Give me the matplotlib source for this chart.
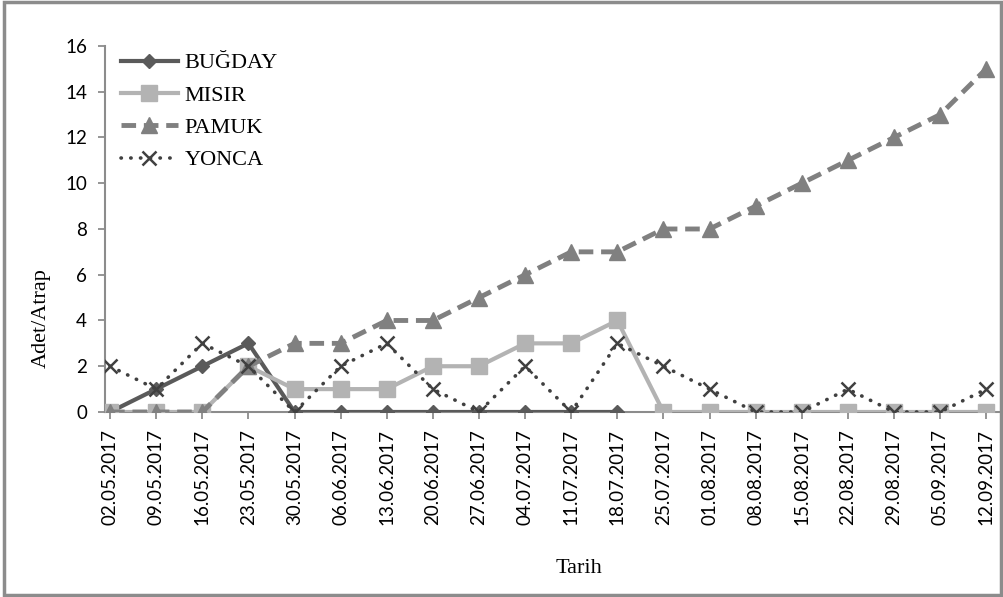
import matplotlib.pyplot as plt
import numpy as np
from matplotlib.patches import Rectangle

# Weekly trap counts per crop
dates = ['02.05.2017', '09.05.2017', '16.05.2017', '23.05.2017', '30.05.2017',
         '06.06.2017', '13.06.2017', '20.06.2017', '27.06.2017', '04.07.2017',
         '11.07.2017', '18.07.2017', '25.07.2017', '01.08.2017', '08.08.2017',
         '15.08.2017', '22.08.2017', '29.08.2017', '05.09.2017', '12.09.2017']
bugday = [0, 1, 2, 3, 0, 0, 0, 0, 0, 0, 0, 0]
misir = [0, 0, 0, 2, 1, 1, 1, 2, 2, 3, 3, 4, 0, 0, 0, 0, 0, 0, 0, 0]
pamuk = [0, 0, 0, 2, 3, 3, 4, 4, 5, 6, 7, 7, 8, 8, 9, 10, 11, 12, 13, 15]
yonca = [2, 1, 3, 2, 0, 2, 3, 1, 0, 2, 0, 3, 2, 1, 0, 0, 1, 0, 0, 1]

x = np.arange(len(dates))

fig = plt.figure(figsize=(10.04, 5.97), dpi=100)
ax = fig.add_axes([0.1046, 0.3099, 0.8915, 0.6131])

ax.plot(x[:len(bugday)], bugday, color='#5a5a5a', lw=3, marker='D', ms=7.5,
        label='BUĞDAY', zorder=3)
ax.plot(x, misir, color='#b3b3b3', lw=3, marker='s', ms=12,
        label='MISIR', zorder=4)
ax.plot(x, pamuk, color='#808080', lw=3.5, ls=(0, (3, 1.6)), marker='^', ms=12,
        label='PAMUK', zorder=5)
ax.plot(x, yonca, color='#404040', lw=2.6, ls=(0, (0.1, 2.6)),
        dash_capstyle='round', marker='x', ms=10.5, mew=1.8,
        label='YONCA', zorder=6)

ax.set_xlim(-0.11, 19.3)
ax.set_ylim(0, 16)
ax.set_yticks(range(0, 17, 2))
ax.set_xticks(x)
ax.set_xticklabels(dates, rotation=90)

for side in ['top', 'right']:
    ax.spines[side].set_visible(False)
for side in ['left', 'bottom']:
    ax.spines[side].set_color('#8c8c8c')
    ax.spines[side].set_linewidth(1.5)
ax.tick_params(axis='both', colors='#8c8c8c', length=5, width=1.3,
               labelcolor='black', labelsize=13.5)
ax.tick_params(axis='y', pad=8)
ax.tick_params(axis='x', pad=7)
for lbl in ax.get_xticklabels() + ax.get_yticklabels():
    lbl.set_family('Lato')

ax.set_ylabel('Adet/Atrap', family='Liberation Serif', fontsize=16)
ax.yaxis.set_label_coords(-0.061, 0.257)
ax.set_xlabel('Tarih', family='Liberation Serif', fontsize=16)
ax.xaxis.set_label_coords(0.53, -0.402)

leg = ax.legend(loc='upper left', bbox_to_anchor=(0.0, 1.024), frameon=False,
                prop={'family': 'Liberation Serif', 'size': 16},
                handlelength=2.6, handletextpad=0.27, labelspacing=0.53,
                borderaxespad=0.3)

# Grey frame around the whole figure
fig.patches.append(Rectangle((0.004, 0.003), 0.993, 0.994, transform=fig.transFigure,
                             fill=False, edgecolor='#8c8c8c', lw=2.5))

fig.savefig('out.png', dpi=100)
